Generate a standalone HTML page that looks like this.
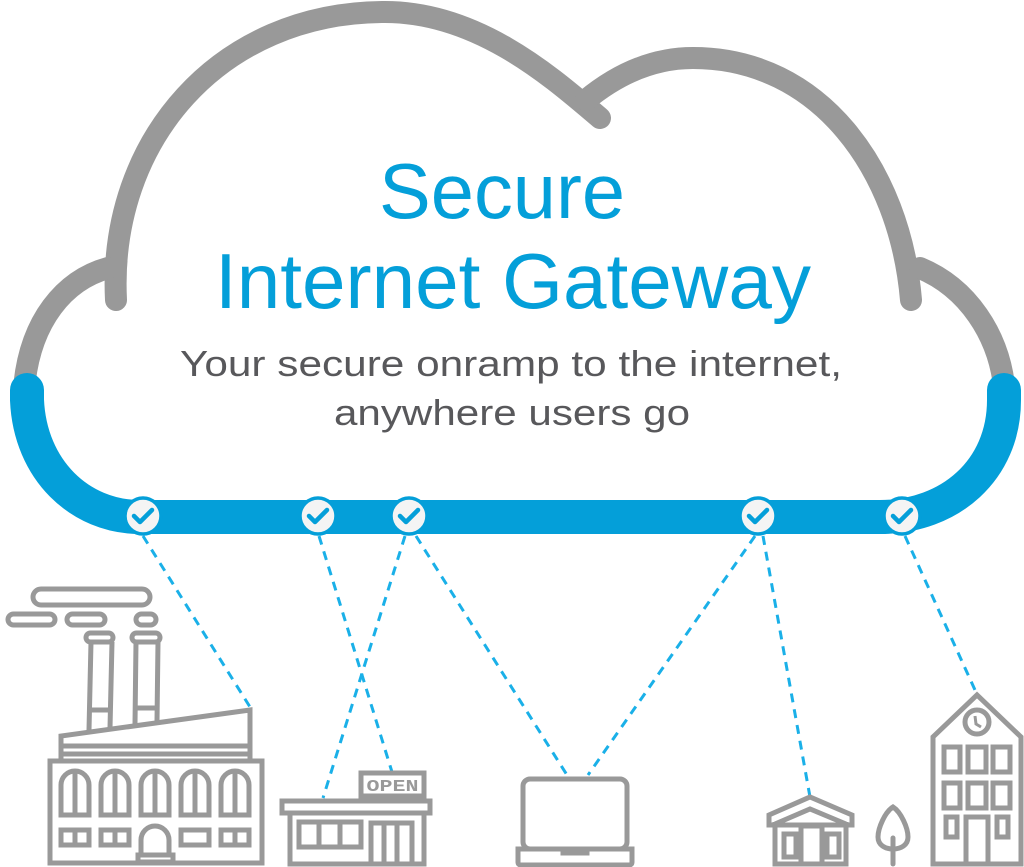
<!DOCTYPE html>
<html><head><meta charset="utf-8"><style>
html,body{margin:0;padding:0;background:#fff;}
svg{display:block}
</style></head><body>
<svg width="1024" height="867" viewBox="0 0 1024 867" xmlns="http://www.w3.org/2000/svg">
<!-- cloud gray -->
<g fill="none" stroke="#999" stroke-width="22" stroke-linecap="round">
<path d="M116,300 C108,140 220,12 385,12 C480,12 555,80 600,118"/>
<path d="M586,100 C620,72 655,58 693,58 C820,58 900,170 911,300"/>
<path d="M920,268 C968,288 998,335 1004,385"/>
<path d="M24,388 C30,320 65,280 108,268"/>
</g>
<!-- blue band -->
<path d="M27,390 L27,400 C30,470 80,517 140,517 L880,517 C950,517 1004,470 1004,400 L1004,390" fill="none" stroke="#049fd9" stroke-width="34" stroke-linecap="round"/>
<!-- dashed lines -->
<g stroke="#1ab0e8" stroke-width="3" stroke-dasharray="9 7" fill="none">
<line x1="143" y1="536" x2="250" y2="707"/>
<line x1="319" y1="536" x2="392" y2="772"/>
<line x1="405" y1="536" x2="323" y2="798"/>
<line x1="416" y1="536" x2="567" y2="775"/>
<line x1="755" y1="536" x2="588" y2="775"/>
<line x1="763" y1="536" x2="810" y2="797"/>
<line x1="905" y1="536" x2="975" y2="690"/>
</g>
<!-- checks -->
<g>
<g transform="translate(143,516)"><circle r="18" fill="#f4f4f4" stroke="#049fd9" stroke-width="3.5"/><path d="M-9,0 L-3,6 L9,-6" fill="none" stroke="#049fd9" stroke-width="4.5" stroke-linecap="round" stroke-linejoin="round"/></g>
<g transform="translate(318,516)"><circle r="18" fill="#f4f4f4" stroke="#049fd9" stroke-width="3.5"/><path d="M-9,0 L-3,6 L9,-6" fill="none" stroke="#049fd9" stroke-width="4.5" stroke-linecap="round" stroke-linejoin="round"/></g>
<g transform="translate(409,516)"><circle r="18" fill="#f4f4f4" stroke="#049fd9" stroke-width="3.5"/><path d="M-9,0 L-3,6 L9,-6" fill="none" stroke="#049fd9" stroke-width="4.5" stroke-linecap="round" stroke-linejoin="round"/></g>
<g transform="translate(758,516)"><circle r="18" fill="#f4f4f4" stroke="#049fd9" stroke-width="3.5"/><path d="M-9,0 L-3,6 L9,-6" fill="none" stroke="#049fd9" stroke-width="4.5" stroke-linecap="round" stroke-linejoin="round"/></g>
<g transform="translate(902,516)"><circle r="18" fill="#f4f4f4" stroke="#049fd9" stroke-width="3.5"/><path d="M-9,0 L-3,6 L9,-6" fill="none" stroke="#049fd9" stroke-width="4.5" stroke-linecap="round" stroke-linejoin="round"/></g>
</g>
<!-- text -->
<text x="502" y="218" text-anchor="middle" font-family="Liberation Sans, sans-serif" font-size="78" fill="#049fd9" textLength="246" lengthAdjust="spacingAndGlyphs">Secure</text>
<text x="513" y="308" text-anchor="middle" font-family="Liberation Sans, sans-serif" font-size="78" fill="#049fd9" textLength="596" lengthAdjust="spacingAndGlyphs">Internet Gateway</text>
<text x="511" y="376" text-anchor="middle" font-family="Liberation Sans, sans-serif" font-size="36" fill="#58585b" textLength="662" lengthAdjust="spacingAndGlyphs">Your secure onramp to the internet,</text>
<text x="512" y="425" text-anchor="middle" font-family="Liberation Sans, sans-serif" font-size="36" fill="#58585b" textLength="356" lengthAdjust="spacingAndGlyphs">anywhere users go</text>
<!-- icons -->
<g fill="none" stroke="#999" stroke-width="5">
<!-- factory -->
<rect x="33" y="589" width="117" height="16" rx="8"/>
<rect x="8" y="614" width="47" height="11" rx="5.5"/>
<rect x="67" y="614" width="38" height="11" rx="5.5"/>
<rect x="136" y="614" width="20" height="11" rx="5.5"/>
<rect x="86" y="633" width="27" height="9" rx="4.5"/>
<rect x="132" y="633" width="28" height="9" rx="4.5"/>
<path d="M89,730 L91,642 M110,728 L112,642 M135,724 L136,642 M157,721 L158,642"/>
<path d="M90,710 L111,710 M135,708 L157,708"/>
<path d="M61,760 L61,736 L250,710 L250,760"/>
<path d="M61,746 L250,746 M61,754 L250,754"/>
<rect x="50" y="761" width="212" height="102"/>
<g>
<path d="M61,815 L61,785 A14,14 0 0 1 89,785 L89,815 Z M75,772 L75,815"/>
<path d="M101,815 L101,785 A14,14 0 0 1 129,785 L129,815 Z M115,772 L115,815"/>
<path d="M141,815 L141,785 A14,14 0 0 1 169,785 L169,815 Z M155,772 L155,815"/>
<path d="M181,815 L181,785 A14,14 0 0 1 209,785 L209,815 Z M195,772 L195,815"/>
<path d="M221,815 L221,785 A14,14 0 0 1 249,785 L249,815 Z M235,772 L235,815"/>
</g>
<rect x="61" y="830" width="28" height="15"/><path d="M75,830 L75,845"/>
<rect x="101" y="830" width="28" height="15"/><path d="M115,830 L115,845"/>
<rect x="181" y="830" width="28" height="15"/>
<rect x="221" y="830" width="28" height="15"/><path d="M235,830 L235,845"/>
<path d="M141,856 L141,840 A14,14 0 0 1 169,840 L169,856"/>
<rect x="138" y="855" width="35" height="7"/>
<!-- store -->
<rect x="361" y="773" width="63" height="23"/>
<path d="M368,797 L368,802 M417,797 L417,802"/>
<rect x="282" y="801" width="148" height="12"/>
<path d="M290,813 L290,864 L424,864 L424,813"/>
<rect x="299" y="822" width="62" height="25"/>
<path d="M319,822 L319,847 M340,822 L340,847"/>
<path d="M371,864 L371,823 L412,823 L412,864 M384,823 L384,864 M397,823 L397,864"/>
<!-- laptop -->
<rect x="523" y="779" width="104" height="70" rx="7"/>
<path d="M518,849 L563,849 L563,853 L587,853 L587,849 L632,849 L632,862 Q632,865 629,865 L521,865 Q518,865 518,862 Z"/>
<!-- house -->
<path d="M769,825 L769,815 L810,797 L852,815 L852,825 Z"/>
<path d="M775,824 L810,809 L846,824"/>
<path d="M775,822 L775,864 L846,864 L846,822"/>
<rect x="801" y="826" width="21" height="38"/>
<rect x="784" y="834" width="12" height="23"/>
<rect x="827" y="834" width="12" height="23"/>
<!-- tree -->
<path d="M893,807 C885,812 878,828 878,837 C878,845 885,849 893,849 C901,849 908,845 908,837 C908,828 901,812 893,807 Z"/>
<path d="M893,838 L893,864" stroke-linecap="round"/>
<!-- building -->
<path d="M933,864 L933,737 L977,695 L1021,737 L1021,864 Z"/>
<circle cx="977" cy="722" r="12"/>
<rect x="944" y="747" width="16" height="25"/>
<rect x="968" y="747" width="18" height="25"/>
<rect x="993" y="747" width="17" height="25"/>
<rect x="944" y="783" width="16" height="25"/>
<rect x="968" y="783" width="18" height="25"/>
<rect x="993" y="783" width="17" height="25"/>
<rect x="946" y="817" width="11" height="20"/>
<rect x="997" y="817" width="11" height="20"/>
<path d="M966,864 L966,817 L988,817 L988,864"/>
</g>
<path d="M975,716 L976,724 L981,727" fill="none" stroke="#999" stroke-width="3"/>
<text x="392.5" y="791" text-anchor="middle" font-family="Liberation Mono, monospace" font-size="17" font-weight="bold" fill="#999" textLength="52" lengthAdjust="spacingAndGlyphs">OPEN</text>
</svg>
</body></html>
